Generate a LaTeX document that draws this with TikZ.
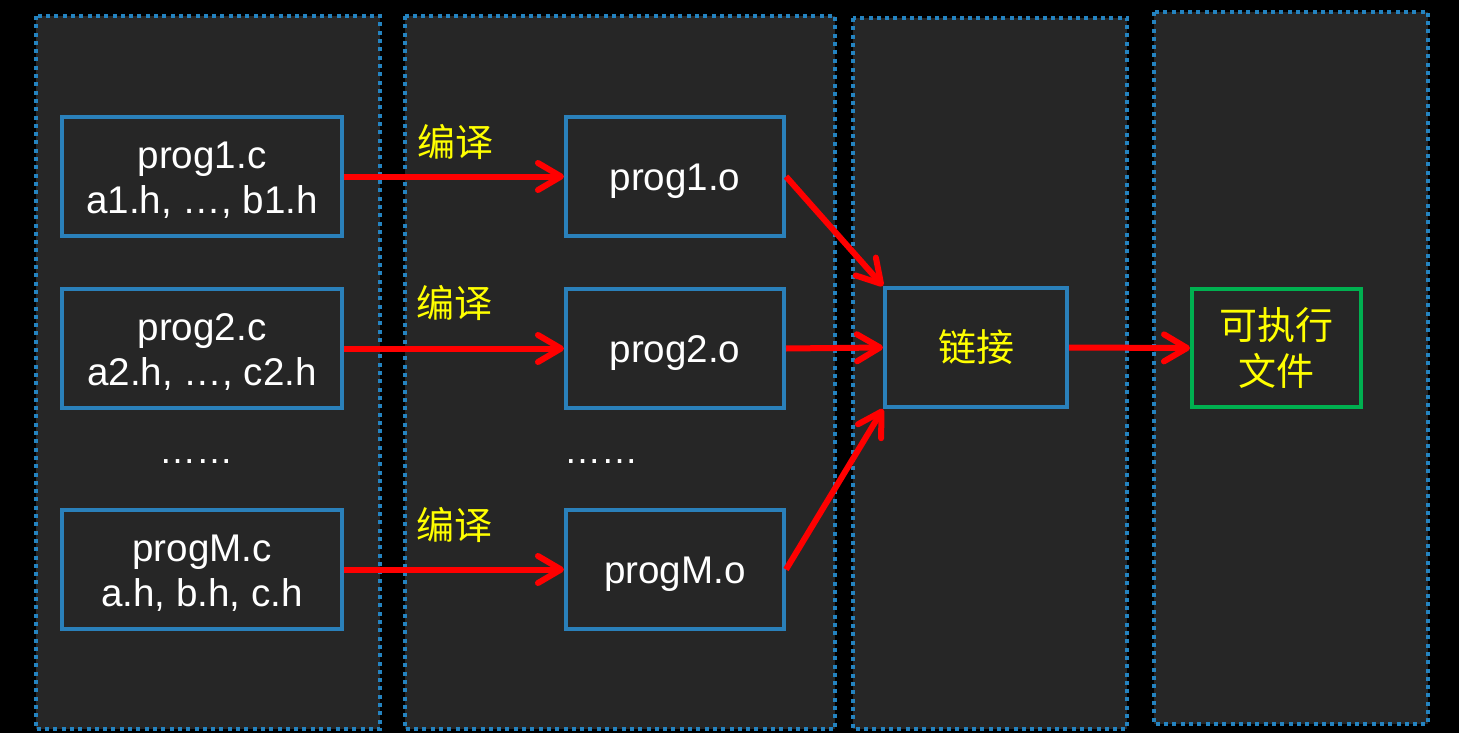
\documentclass[tikz,border=0pt]{standalone}
\usepackage{fontspec}
\setmainfont{Liberation Sans}
\newfontfamily\cjk{Noto Sans CJK SC}
\usetikzlibrary{arrows.meta}
\definecolor{panelfill}{HTML}{262626}
\definecolor{panelblue}{HTML}{2483C0}
\definecolor{boxblue}{HTML}{2A80BA}
\definecolor{exegreen}{HTML}{00B050}
\definecolor{arrowred}{HTML}{FF0000}
\definecolor{labelyellow}{HTML}{FFFF00}
\newcommand\lowtext[1]{\raisebox{-5pt}[\height][\depth]{\begin{tabular}{@{}c@{}}#1\end{tabular}}}
\begin{document}
\begin{tikzpicture}[x=1pt,y=-1pt,
  panel/.style={fill=panelfill,draw=panelblue,line width=3.5pt,dash pattern=on 4pt off 4.3pt},
  box/.style={draw=boxblue,line width=4pt,fill=panelfill,inner sep=0pt,align=center,
    text=white,font=\fontsize{38.6}{45}\selectfont},
  cbox/.style={box,minimum width=280pt,minimum height=119pt},
  obox/.style={box,minimum width=218pt,minimum height=119pt},
  linkbox/.style={box,minimum width=182pt,minimum height=119pt,text=labelyellow,font=\cjk\fontsize{38}{46}\selectfont},
  exebox/.style={linkbox,draw=exegreen,minimum width=169pt,minimum height=118pt},
  arr/.style={draw=arrowred,line width=6pt,-{Straight Barb[length=23pt,width=27pt,line cap=round,line join=round]}},
  lbl/.style={text=labelyellow,font=\cjk\fontsize{38}{46}\selectfont,inner sep=0pt},
  dots/.style={text=white,font=\fontsize{37}{44}\selectfont,inner sep=0pt,anchor=base}
]
\fill[black] (0,0) rectangle (1459,733);
\useasboundingbox (0,0) rectangle (1459,733);

% panels
\draw[panel] (36,16) rectangle (380,729);
\draw[panel] (405,16) rectangle (835,729);
\draw[panel] (853,18) rectangle (1127,729);
\draw[panel] (1154,12) rectangle (1428,724);

% source boxes
\node[cbox] (p1c) at (202,176.5) {\lowtext{prog1.c\\a1.h, …, b1.h}};
\node[cbox] (p2c) at (202,348.5) {\lowtext{prog2.c\\a2.h, …, c2.h}};
\node[cbox] (pMc) at (202,569.5) {\lowtext{progM.c\\a.h, b.h, c.h}};

% object boxes
\node[obox] (p1o) at (675,176.5) {\lowtext{prog1.o}};
\node[obox] (p2o) at (675,348.5) {\lowtext{prog2.o}};
\node[obox] (pMo) at (675,569.5) {\lowtext{progM.o}};

% link and executable
\node[linkbox] (link) at (976,347.5) {链接};
\node[exebox] (exe) at (1276.5,348) {\lowtext{可执行\\文件}};

% dots
\node[dots] (d1) at (196,463) {……};
\node[dots] (d2) at (601,463) {……};

% labels
\node[lbl] (l1) at (455,142) {编译};
\node[lbl] (l2) at (454,303) {编译};
\node[lbl] (l3) at (454,525) {编译};

% arrows
\draw[arr] (p1c.east) -- (p1o.west);
\draw[arr] (p2c.east) -- (p2o.west);
\draw[arr] (pMc.east) -- (pMo.west);
\draw[arr] (p1o.east) -- (link.north west);
\draw[arr] (p2o.east) -- (link.west);
\draw[arr] (pMo.east) -- (link.south west);
\draw[arr] (link.east) -- (exe.west);
\end{tikzpicture}
\end{document}
